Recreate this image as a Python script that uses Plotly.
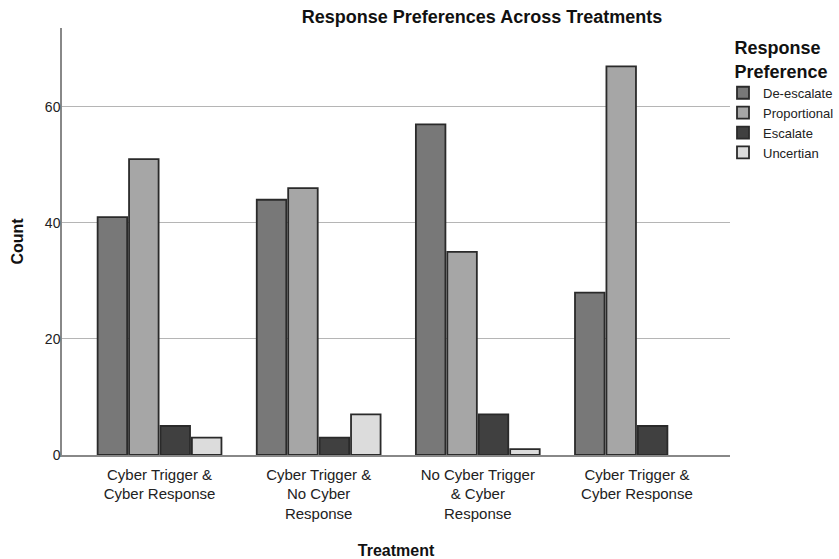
import plotly.graph_objects as go

treatments = [
    "Cyber Trigger &<br>Cyber Response",
    "Cyber Trigger &<br>No Cyber<br>Response",
    "No Cyber Trigger<br>& Cyber<br>Response",
    "Cyber Trigger &<br>Cyber Response",
]
positions = [0, 1, 2, 3]
de_escalate = [41, 44, 57, 28]
proportional = [51, 46, 35, 67]
escalate = [5, 3, 7, 5]
uncertian = [3, 7, 1, 0]

series = [
    ("De-escalate", de_escalate, "#787878"),
    ("Proportional", proportional, "#a6a6a6"),
    ("Escalate", escalate, "#404040"),
    ("Uncertian", uncertian, "#dcdcdc"),
]

fig = go.Figure()
for name, vals, col in series:
    fig.add_trace(go.Bar(
        x=positions, y=vals, name=name,
        marker=dict(color=col,
                    line=dict(color="#2a2a2a", width=[1.8 if v > 0 else 0 for v in vals])),
    ))

font_family = "Liberation Sans, Arial, sans-serif"
fig.update_layout(
    width=839, height=559,
    barmode="group", bargap=0.21, bargroupgap=0.06,
    plot_bgcolor="white", paper_bgcolor="white",
    margin=dict(l=62, r=109, t=28, b=104, autoexpand=False),
    font=dict(family=font_family, color="#222222", size=12),
    title=dict(text="<b>Response Preferences Across Treatments</b>",
               x=482/839, xanchor="center", y=1 - 17/559, yanchor="middle",
               font=dict(size=18, color="#111111")),
    showlegend=True,
    legend=dict(
        xref="container", yref="container",
        x=1.0, xanchor="right", y=1 - 31/559, yanchor="top",
        title=dict(text="<b>Response<br>Preference</b>", font=dict(size=18, color="#111111"), side="top center"),
        font=dict(size=13, color="#222222"),
        itemwidth=30, tracegroupgap=0,
        bgcolor="rgba(0,0,0,0)",
    ),
    xaxis=dict(
        tickmode="array", tickvals=positions, ticktext=treatments,
        range=[-0.613, 3.585], automargin=False,
        showline=True, linecolor="#888888", linewidth=1.5,
        showgrid=False, ticks="", ticklabelstandoff=5,
        tickfont=dict(size=15, color="#222222"),
        title=dict(text="<b>Treatment</b>", font=dict(size=16, color="#111111"), standoff=26),
    ),
    yaxis=dict(
        range=[0, 73.6], tickvals=[0, 20, 40, 60], automargin=False,
        showline=True, linecolor="#888888", linewidth=1.5,
        showgrid=True, gridcolor="#b5b5b5", gridwidth=1.2,
        zeroline=False, ticks="", ticklen=0, ticklabelstandoff=-3,
        tickfont=dict(size=14, color="#222222"),
        title=dict(text="<b>Count</b>", font=dict(size=16, color="#111111"), standoff=17),
    ),
)

fig.write_html("out.html", config={"displayModeBar": False},
               post_script="document.body.style.margin='0';")
